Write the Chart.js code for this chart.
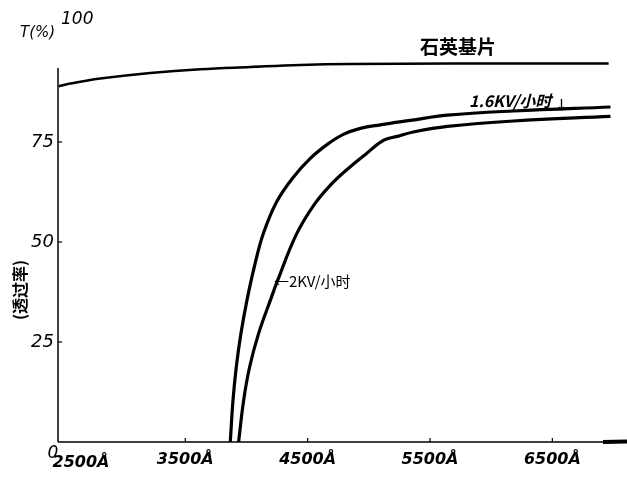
<!DOCTYPE html>
<html>
<head>
<meta charset="utf-8">
<script src="https://cdn.jsdelivr.net/npm/chart.js@4/dist/chart.umd.min.js"></script>
<style>
  html, body { margin: 0; padding: 0; background: #fff; }
  #wrap { width: 627px; height: 478px; position: relative; }
</style>
</head>
<body>
<div id="wrap"><canvas id="c" width="627" height="478"></canvas></div>
<script>
// ---- data ----
const quartzWl = [2465, 2560, 2805, 3214, 3623, 4031, 4440, 4849, 5667, 6960];
const quartzT  = [88.9, 89.6, 90.85, 92.25, 93.2, 93.75, 94.25, 94.5, 94.6, 94.6];

const kv16Wl = [3868, 3890, 3917, 3955, 4004, 4064, 4138, 4244, 4375, 4522, 4661, 4792, 4931, 5094, 5340, 5642, 6182, 6975];
const kv16T  = [0, 10.4, 18.75, 27.1, 35.4, 43.75, 52.1, 59.9, 65.9, 70.9, 74.4, 76.9, 78.4, 79.3, 80.4, 81.7, 82.75, 83.75];

const kv2Wl = [3936, 3977, 4026, 4099, 4195, 4255, 4408, 4555, 4686, 4825, 4972, 5119, 5233, 5364, 5642, 6182, 6975];
const kv2T  = [0, 10.4, 18.75, 27.1, 35.4, 40.4, 51.9, 59.4, 64.2, 68.2, 71.9, 75.4, 76.4, 77.5, 78.9, 80.25, 81.4];

const xTickValues = [3500, 4500, 5500, 6500];
const xTickLabels = ['3500Å', '4500Å', '5500Å', '6500Å'];
const yTickValues = [25, 50, 75];
const yTickLabels = ['25', '50', '75'];

const seriesNames = ['石英基片', '1.6KV/小时', '2KV/小时'];
const yTitle = '(透过率)';
const yUnit = 'T(%)';

function pts(xs, ys) { return xs.map((x, i) => ({ x: x, y: ys[i] })); }

const FONT = "'DejaVu Sans', 'Noto Sans CJK SC', sans-serif";
const CJK = "'Noto Sans CJK SC', 'DejaVu Sans', sans-serif";

const decor = {
  id: 'decor',
  afterDraw(chart) {
    const ctx = chart.ctx;
    const xs = chart.scales.x, ys = chart.scales.y;
    const x0 = xs.getPixelForValue(2460);
    const yb = ys.getPixelForValue(0);
    ctx.save();
    ctx.strokeStyle = '#000';
    ctx.fillStyle = '#000';
    // y axis line
    ctx.lineWidth = 1.5;
    ctx.beginPath();
    ctx.moveTo(x0, yb);
    ctx.lineTo(x0, ys.getPixelForValue(93.5));
    ctx.stroke();
    // x axis line
    ctx.beginPath();
    ctx.moveTo(x0, yb);
    ctx.lineTo(chart.width, yb);
    ctx.stroke();
    // arrow at right end
    ctx.lineWidth = 4;
    ctx.beginPath();
    ctx.moveTo(603, yb);
    ctx.lineTo(627, yb - 0.5);
    ctx.stroke();
    // tick marks
    ctx.lineWidth = 1.2;
    yTickValues.forEach(v => {
      const y = ys.getPixelForValue(v);
      ctx.beginPath(); ctx.moveTo(x0, y); ctx.lineTo(x0 + 4, y); ctx.stroke();
    });
    xTickValues.forEach(v => {
      const x = xs.getPixelForValue(v);
      ctx.beginPath(); ctx.moveTo(x, yb); ctx.lineTo(x, yb - 4); ctx.stroke();
    });
    // texts
    ctx.textBaseline = 'middle';
    ctx.textAlign = 'left';
    ctx.font = "italic 15px " + FONT;
    ctx.fillText(yUnit, 20, 33);
    ctx.font = "italic 17px " + FONT;
    ctx.fillText('100', 61, 20);
    ctx.textAlign = 'center';
    ctx.fillText('0', 53, 454);
    ctx.font = "italic bold 16px " + FONT;
    ctx.fillText('2500Å', 81, 463);
    // series labels
    ctx.font = "bold 19px " + CJK;
    ctx.fillText(seriesNames[0], 458, 47);
    ctx.textAlign = 'left';
    ctx.font = "italic bold 16px " + CJK;
    ctx.fillText(seriesNames[1], 469, 101);
    ctx.font = "bold 13px " + CJK;
    ctx.fillText('↓', 555, 104);
    ctx.font = "15px " + CJK;
    ctx.fillText('←' + seriesNames[2], 274, 281);
    // y title rotated
    ctx.save();
    ctx.translate(20, 290);
    ctx.rotate(-Math.PI / 2);
    ctx.textAlign = 'center';
    ctx.font = "bold 16px " + CJK;
    ctx.fillText(yTitle, 0, 0);
    ctx.restore();
    ctx.restore();
  }
};

const lineStyle = { borderColor: '#000', backgroundColor: '#000', pointRadius: 0, showLine: true, fill: false, tension: 0.4 };

new Chart(document.getElementById('c'), {
  type: 'scatter',
  data: {
    datasets: [
      Object.assign({ label: seriesNames[0], data: pts(quartzWl, quartzT), borderWidth: 2.5 }, lineStyle),
      Object.assign({ label: seriesNames[1], data: pts(kv16Wl, kv16T), borderWidth: 3.2 }, lineStyle),
      Object.assign({ label: seriesNames[2], data: pts(kv2Wl, kv2T), borderWidth: 3.2 }, lineStyle)
    ]
  },
  options: {
    responsive: false,
    animation: false,
    layout: { padding: { top: 42, right: 0, left: 0, bottom: 0 } },
    plugins: { legend: { display: false }, tooltip: { enabled: false } },
    scales: {
      x: {
        type: 'linear', min: 2460, max: 7110,
        grid: { display: false, drawTicks: false },
        border: { display: false },
        afterBuildTicks: s => { s.ticks = xTickValues.map(v => ({ value: v })); },
        afterFit: s => { s.height = 36; },
        ticks: {
          autoSkip: false, maxRotation: 0, padding: 8, color: '#000',
          font: { family: FONT, size: 16, style: 'italic', weight: 'bold' },
          callback: (v, i) => xTickLabels[i]
        }
      },
      y: {
        type: 'linear', min: 0, max: 100,
        grid: { display: false, drawTicks: false },
        border: { display: false },
        afterBuildTicks: s => { s.ticks = yTickValues.map(v => ({ value: v })); },
        afterFit: s => { s.width = 58; },
        ticks: {
          autoSkip: false, padding: 4, color: '#000',
          font: { family: FONT, size: 18, style: 'italic' },
          callback: (v, i) => yTickLabels[i]
        }
      }
    }
  },
  plugins: [decor]
});
</script>
</body>
</html>
